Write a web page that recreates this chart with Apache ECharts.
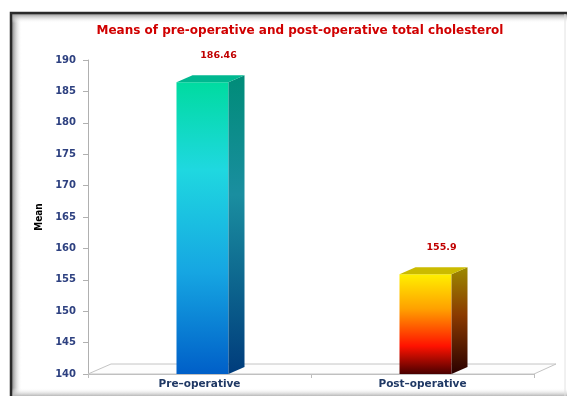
<!DOCTYPE html>
<html><head><meta charset="utf-8">
<script src="https://cdn.jsdelivr.net/npm/echarts@6/dist/echarts.min.js"></script>
<style>html,body{margin:0;padding:0;background:#fff}#c{width:567px;height:396px}</style>
</head><body><div id="c"></div>
<script>
const categories = ['Pre\u2013operative', 'Post\u2013operative'];
const meanValues = [186.46, 155.9];
const valueLabels = ['186.46', '155.9'];
const yTicks = [140, 145, 150, 155, 160, 165, 170, 175, 180, 185, 190];

const barStyles = [
  { front: [['0', '#00dba0'], ['0.3', '#1fd8e0'], ['0.65', '#16a6e2'], ['1', '#005fc8']],
    side: [['0', '#008c78'], ['0.4', '#1a8ea0'], ['1', '#003c7c']], top: '#00b890' },
  { front: [['0', '#fff000'], ['0.35', '#ffa000'], ['0.72', '#ff1200'], ['1', '#4a0000']],
    side: [['0', '#9c8a00'], ['0.45', '#8a3a00'], ['1', '#2a0000']], top: '#cbbb00' }
];
function grad(stops) {
  return new echarts.graphic.LinearGradient(0, 0, 0, 1, stops.map(s => ({ offset: +s[0], color: s[1] })));
}

const chart = echarts.init(document.getElementById('c'), null, { renderer: 'canvas' });
const DX = 16, DY = 7, BW = 52;
chart.setOption({
  animation: false,
  backgroundColor: '#fff',
  title: {
    text: 'Means of pre-operative and post-operative total cholesterol',
    left: 295, top: 20, textAlign: 'center',
    textStyle: { color: '#d00000', fontFamily: 'DejaVu Sans', fontWeight: 'bold', fontSize: 12 }
  },
  graphic: [
    { type: 'rect', silent: true, z: -10, shape: { x: 12, y: 14, width: 10, height: 382 },
      style: { fill: new echarts.graphic.LinearGradient(0, 0, 1, 0, [{ offset: 0, color: '#8a8a8a' }, { offset: 1, color: 'rgba(255,255,255,0)' }]) } },
    { type: 'rect', silent: true, z: -10, shape: { x: 12, y: 14, width: 555, height: 9 },
      style: { fill: new echarts.graphic.LinearGradient(0, 0, 0, 1, [{ offset: 0, color: '#9a9a9a' }, { offset: 1, color: 'rgba(255,255,255,0)' }]) } },
    { type: 'rect', silent: true, z: -10, shape: { x: 12, y: 388, width: 555, height: 8 },
      style: { fill: new echarts.graphic.LinearGradient(0, 0, 0, 1, [{ offset: 0, color: 'rgba(255,255,255,0)' }, { offset: 1, color: '#b8b8b8' }]) } },
    { type: 'polyline', silent: true, z: -5, shape: { points: [[11, 396], [11, 13], [567, 13]] },
      style: { stroke: '#2a2a2a', lineWidth: 2.5, fill: null } },
    { type: 'line', silent: true, z: -5, shape: { x1: 565, y1: 14, x2: 565, y2: 396 },
      style: { stroke: '#e2e2e2', lineWidth: 1 } }
  ],
  grid: { left: 88, right: 33, top: 60, bottom: 22 },
  xAxis: {
    type: 'category', data: categories,
    axisLine: { show: true, lineStyle: { color: '#bdbdbd', width: 1 } },
    axisTick: { show: true, length: 4, lineStyle: { color: '#bdbdbd' } },
    axisLabel: { color: '#1f3864', fontFamily: 'DejaVu Sans', fontWeight: 'bold', fontSize: 10.5, margin: 5 },
    splitLine: { show: false }
  },
  yAxis: {
    type: 'value', min: 140, max: 190, interval: 5,
    name: 'Mean', nameLocation: 'middle', nameRotate: 90, nameGap: 44,
    nameTextStyle: { color: '#000', fontFamily: 'DejaVu Sans Condensed', fontWeight: 'bold', fontSize: 10 },
    axisLine: { show: true, lineStyle: { color: '#b0b0b0', width: 1 } },
    axisTick: { show: true, length: 5, lineStyle: { color: '#b0b0b0' } },
    axisLabel: { color: '#2e4180', fontFamily: 'DejaVu Sans', fontWeight: 'bold', fontSize: 10, margin: 12,
      formatter: v => yTicks.indexOf(v) >= 0 ? String(v) : '' },
    splitLine: { show: false }
  },
  series: [
    {
      type: 'custom', z: 1, silent: true,
      data: [[0, 140]],
      renderItem: function (params, api) {
        const cs = params.coordSys;
        const y = api.coord([0, api.value(1)])[1];
        const xl = cs.x, xr = cs.x + cs.width;
        return {
          type: 'polygon',
          shape: { points: [[xl, y], [xr, y], [xr + 22, y - 10], [xl + 23, y - 10]] },
          style: { fill: '#fdfdfd', stroke: '#c4c4c4', lineWidth: 1 }
        };
      }
    },
    {
      type: 'custom', z: 2, silent: true,
      data: meanValues.map((v, i) => [i, v]),
      renderItem: function (params, api) {
        const i = params.dataIndex;
        const topPt = api.coord([api.value(0), api.value(1)]);
        const basePt = api.coord([api.value(0), 140]);
        const x0 = topPt[0] - BW / 2 + 3;
        const yt = topPt[1], yb = basePt[1];
        const st = barStyles[i];
        return {
          type: 'group',
          children: [
            { type: 'rect', shape: { x: x0, y: yt, width: BW, height: yb - yt }, style: { fill: grad(st.front) } },
            { type: 'polygon', shape: { points: [[x0 + BW, yt], [x0 + BW + DX, yt - DY], [x0 + BW + DX, yb - DY], [x0 + BW, yb]] },
              style: { fill: grad(st.side) } },
            { type: 'polygon', shape: { points: [[x0, yt], [x0 + DX, yt - DY], [x0 + BW + DX, yt - DY], [x0 + BW, yt]] },
              style: { fill: st.top } },
            { type: 'text', style: { text: valueLabels[i], x: x0 + BW / 2 + 16, y: yt - 27, align: 'center', verticalAlign: 'middle',
              fill: '#c00000', font: 'bold 9.5px "DejaVu Sans"' } }
          ]
        };
      }
    }
  ]
});
</script></body></html>
